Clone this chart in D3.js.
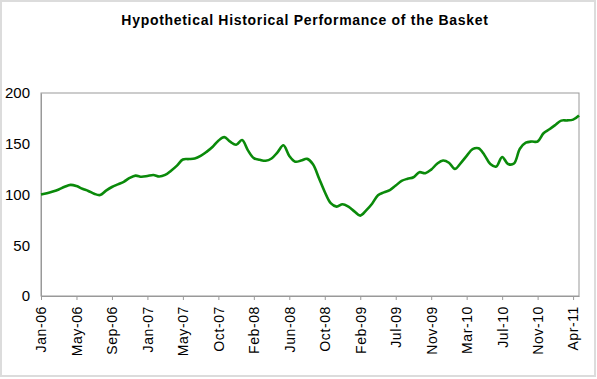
<!DOCTYPE html>
<html><head><meta charset="utf-8">
<script src="https://cdn.jsdelivr.net/npm/d3@7"></script>
<style>body{margin:0;background:#fff}svg{display:block}text{font-family:"Liberation Sans",Arial,sans-serif}</style>
</head><body><svg id="c" width="597" height="379"></svg>
<script>
const title = "Hypothetical Historical Performance of the Basket";
// one value every 3 weeks, starting Jan-06
const values = [100,101.3,103,105,107.6,109.5,108.3,105.6,103.5,100.7,99.5,103.8,107.4,110,112.5,116.3,118.6,117.5,118.2,119.2,117.7,119.3,123.5,128.5,134.5,134.9,135.5,138,142,146.8,153,156.5,152,149,153.6,143.5,135.8,134.2,133.2,135.5,141.5,148.5,138,132.3,133.4,135.1,129.8,116.3,102.5,91.5,88.1,90.4,88,83.4,79.2,84.3,90.9,99.2,102.1,104.3,108.8,113.4,115.5,117,122,121,124.5,130.3,133.5,131.3,125.2,131,138,144.6,145.5,139,130,127.5,137,130,130.5,145,151,152.2,152.2,160.3,164.3,168.5,172.8,173,173.8,177.9];
const weekStep = 3;
const tickLabels = ["Jan-06","May-06","Sep-06","Jan-07","May-07","Oct-07","Feb-08","Jun-08","Oct-08","Feb-09","Jul-09","Nov-09","Mar-10","Jul-10","Nov-10","Apr-11"];
const tickEvery = 18; // weeks between labels
const yTicks = [0,50,100,150,200];

const svg = d3.select("#c");
svg.append("rect").attr("x",1).attr("y",1).attr("width",594).attr("height",375)
  .attr("fill","#fff").attr("stroke","#dcdcdc").attr("stroke-width",2);

const L=41,R=579,T=93,B=296;
const x = d3.scaleLinear().domain([0,(values.length-1)*weekStep]).range([L,R]);
const y = d3.scaleLinear().domain([0,200]).range([B,T]);

svg.append("rect").attr("x",L).attr("y",T).attr("width",R-L).attr("height",B-T)
  .attr("fill","#fff").attr("stroke","#999").attr("stroke-width",1);

svg.append("text").attr("x",305).attr("y",25).attr("text-anchor","middle")
  .attr("font-size",14).attr("font-weight","bold").attr("letter-spacing",0.7)
  .attr("fill","#000").text(title);

// y axis
const ya = svg.append("g").attr("transform",`translate(${L},0)`)
  .call(d3.axisLeft(y).tickValues(yTicks).tickSize(0).tickPadding(11));
ya.select(".domain").attr("stroke","#999");
ya.selectAll("text").attr("font-size",15).attr("fill","#000").style("font-family","'Liberation Sans',Arial,sans-serif");

// x axis
const xt = tickLabels.map((d,i)=>i*tickEvery);
const xa = svg.append("g").attr("transform",`translate(0,${B})`)
  .call(d3.axisBottom(x).tickValues(xt).tickFormat((d,i)=>tickLabels[i]).tickSize(4).tickSizeOuter(0));
xa.select(".domain").attr("stroke","#999");
xa.selectAll("line").attr("stroke","#999");
xa.selectAll("text").attr("font-size",14).attr("letter-spacing",0.6).attr("fill","#000")
  .style("font-family","'Liberation Sans',Arial,sans-serif")
  .attr("text-anchor","end").attr("dy","0.35em")
  .attr("transform","translate(0,10) rotate(-90)").attr("x",0).attr("y",0);

const line = d3.line().x((d,i)=>x(i*weekStep)).y(d=>y(d)).curve(d3.curveCatmullRom.alpha(0.5));
svg.append("path").datum(values).attr("d",line).attr("fill","none")
  .attr("stroke","#0a8a0a").attr("stroke-width",2.6).attr("stroke-linejoin","round");
</script></body></html>
